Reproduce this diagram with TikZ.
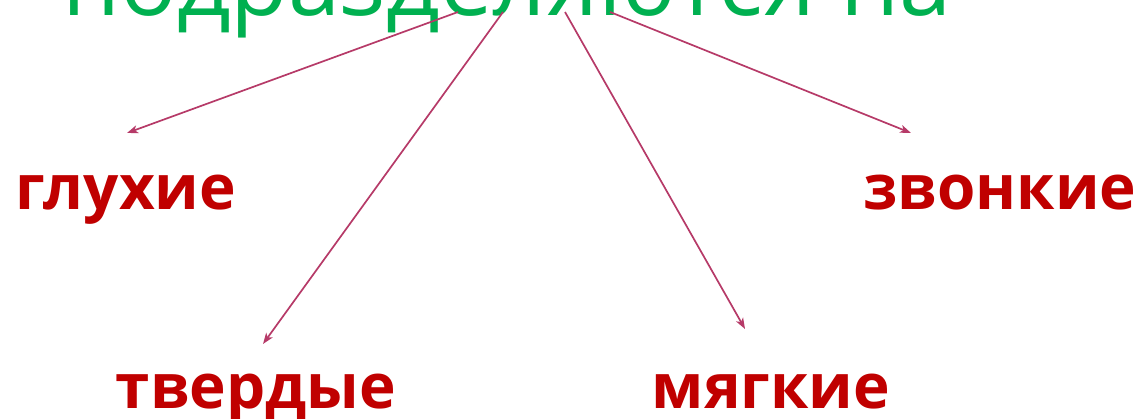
\documentclass[tikz,border=0pt]{standalone}
\usepackage{fontspec}
\setmainfont{Open Sans}
\usetikzlibrary{arrows.meta}
\definecolor{lbl}{HTML}{C00000}
\definecolor{ttl}{HTML}{00B050}
\definecolor{arr}{HTML}{B63A68}
\tikzset{
  word/.style={text=lbl, font=\fontsize{62}{70}\selectfont\bfseries, inner sep=0pt, anchor=base},
  link/.style={draw=arr, line width=1.7pt, -{Stealth[length=11pt,width=8pt,inset=3pt]}},
}
\begin{document}
\begin{tikzpicture}[x=1pt,y=-1pt]
\useasboundingbox (0,0) rectangle (1139,419);
\node[text=ttl, font=\fontsize{94}{100}\selectfont, inner sep=0pt, anchor=base] (title) at (507,16) {подразделяются на};
\coordinate (s1) at (458,12);
\coordinate (s2) at (503,12);
\coordinate (s3) at (565,12);
\coordinate (s4) at (610,12);
\node[word] (g) at (126,210) {глухие};
\node[word] (z) at (1000,210) {звонкие};
\node[word] (t) at (256,408) {твердые};
\node[word] (m) at (771,408) {мягкие};
\coordinate (e1) at (127,133);
\coordinate (e2) at (263,344);
\coordinate (e3) at (745,329);
\coordinate (e4) at (911,133);
\draw[link] (s1) -- (e1);
\draw[link] (s2) -- (e2);
\draw[link] (s3) -- (e3);
\draw[link] (s4) -- (e4);
\end{tikzpicture}
\end{document}
